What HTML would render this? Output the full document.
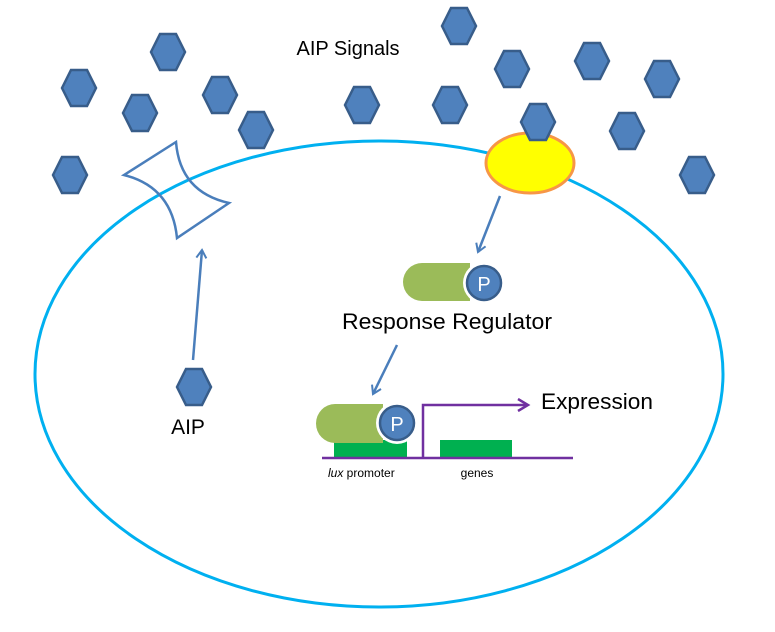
<!DOCTYPE html>
<html><head><style>body{margin:0;background:#fff}svg{display:block}</style></head><body>
<svg width="775" height="632" viewBox="0 0 775 632" xmlns="http://www.w3.org/2000/svg" font-family="Liberation Sans, sans-serif">
<defs>
<symbol id="h" viewBox="-19 -19 38 38" overflow="visible"><polygon points="-17,0 -8,-18 8,-18 17,0 8,18 -8,18" fill="#4F81BD" stroke="#385D8A" stroke-width="2.5"/></symbol>
<marker id="a" markerWidth="12" markerHeight="12" refX="9" refY="6" orient="auto" markerUnits="userSpaceOnUse"><path d="M1,1 L9,6 L1,11" fill="none" stroke="#4A7EBB" stroke-width="2"/></marker>
<marker id="p" markerWidth="14" markerHeight="14" refX="11" refY="7" orient="auto" markerUnits="userSpaceOnUse"><path d="M1,1 L11,7 L1,13" fill="none" stroke="#7030A0" stroke-width="2.5"/></marker>
</defs>
<ellipse cx="379" cy="374" rx="344" ry="233" fill="none" stroke="#00B0F0" stroke-width="3"/>
<g>
<use href="#h" x="149" y="33" width="38" height="38"/>
<use href="#h" x="60" y="69" width="38" height="38"/>
<use href="#h" x="121" y="94" width="38" height="38"/>
<use href="#h" x="201" y="76" width="38" height="38"/>
<use href="#h" x="237" y="111" width="38" height="38"/>
<use href="#h" x="51" y="156" width="38" height="38"/>
<use href="#h" x="343" y="86" width="38" height="38"/>
<use href="#h" x="431" y="86" width="38" height="38"/>
<use href="#h" x="440" y="7" width="38" height="38"/>
<use href="#h" x="493" y="50" width="38" height="38"/>
<use href="#h" x="573" y="42" width="38" height="38"/>
<use href="#h" x="643" y="60" width="38" height="38"/>
<use href="#h" x="608" y="112" width="38" height="38"/>
<use href="#h" x="678" y="156" width="38" height="38"/>
</g>
<ellipse cx="530" cy="163" rx="44" ry="30" fill="#FFFF00" stroke="#F79646" stroke-width="3"/>
<use href="#h" x="519" y="103" width="38" height="38"/>
<path d="M124,175 L176,142 Q180,192 229,203 L177,238 Q172,187 124,175 Z" fill="none" stroke="#4A7EBB" stroke-width="2.5" stroke-linejoin="miter"/>
<text x="348" y="55" font-size="20" text-anchor="middle" fill="#000">AIP Signals</text>
<use href="#h" x="175" y="368" width="38" height="38"/>
<text x="188" y="434" font-size="21" text-anchor="middle">AIP</text>
<line x1="193" y1="360" x2="202" y2="250" stroke="#4A7EBB" stroke-width="2.5" marker-end="url(#a)"/>
<line x1="500" y1="196" x2="478" y2="252" stroke="#4A7EBB" stroke-width="2.5" marker-end="url(#a)"/>
<line x1="397" y1="345" x2="373" y2="394" stroke="#4A7EBB" stroke-width="2.5" marker-end="url(#a)"/>
<path d="M422,263 H470 V301 H422 A19,19 0 0 1 422,263 Z" fill="#9BBB59"/>
<circle cx="484" cy="283" r="21" fill="#fff"/>
<circle cx="484" cy="283" r="17" fill="#4F81BD" stroke="#385D8A" stroke-width="2.5"/>
<text x="484" y="291" font-size="20" fill="#fff" text-anchor="middle">P</text>
<text x="447" y="329" font-size="22" text-anchor="middle" textLength="210" lengthAdjust="spacingAndGlyphs">Response Regulator</text>
<rect x="334" y="440" width="73" height="19" fill="#00B050"/>
<rect x="440" y="440" width="72" height="19" fill="#00B050"/>
<line x1="322" y1="458" x2="573" y2="458" stroke="#7030A0" stroke-width="2.5"/>
<path d="M423,458 V405 H528" fill="none" stroke="#7030A0" stroke-width="2.5" marker-end="url(#p)"/>
<path d="M335,404 H383 V443 H335 A19,19.5 0 0 1 335,404 Z" fill="#9BBB59"/>
<circle cx="397" cy="423" r="21" fill="#fff"/>
<circle cx="397" cy="423" r="17" fill="#4F81BD" stroke="#385D8A" stroke-width="2.5"/>
<text x="397" y="431" font-size="20" fill="#fff" text-anchor="middle">P</text>
<text x="541" y="409" font-size="22" textLength="112" lengthAdjust="spacingAndGlyphs">Expression</text>
<text x="328" y="477" font-size="12"><tspan font-style="italic">lux</tspan> promoter</text>
<text x="477" y="477" font-size="12" text-anchor="middle">genes</text>
</svg>
</body></html>
